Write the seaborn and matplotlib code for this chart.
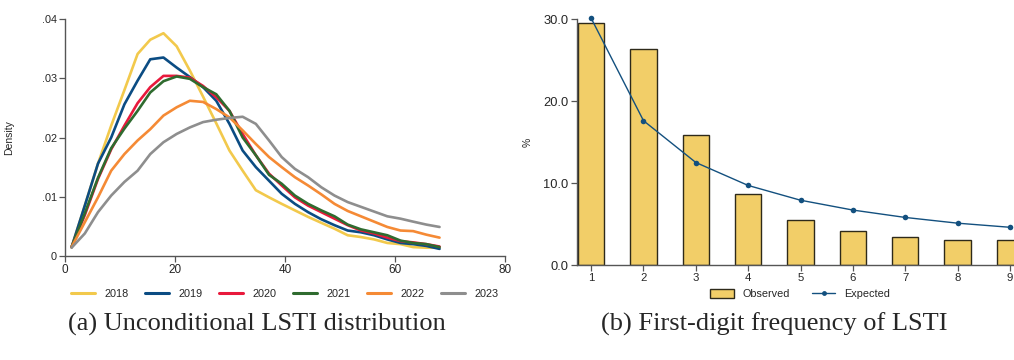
import numpy as np
import pandas as pd
import matplotlib
matplotlib.use("Agg")
import matplotlib.pyplot as plt
import seaborn as sns
from matplotlib.lines import Line2D
from matplotlib.patches import Patch

sns.set_theme(style="white")
plt.rcParams['font.family'] = ['Liberation Sans', 'DejaVu Sans']

# ---------------- data: panel (a) ----------------
lsti_grid = [1.2, 3.6, 6.0, 8.4, 10.8, 13.2, 15.5, 17.9, 20.3, 22.7, 25.1, 27.5, 29.9, 32.3,
             34.7, 37.1, 39.4, 41.8, 44.2, 46.6, 49.0, 51.4, 53.8, 56.2, 58.6, 61.0, 63.3, 65.7, 68.1]
dens_2018 = [0.0015, 0.0085, 0.0156, 0.0220, 0.0280, 0.0341, 0.0365, 0.0376, 0.0354, 0.0313,
             0.0269, 0.0224, 0.0178, 0.0144, 0.0111, 0.0099, 0.0088, 0.0077, 0.0066, 0.0056,
             0.0046, 0.0035, 0.0032, 0.0028, 0.0022, 0.0020, 0.0015, 0.0014, 0.0014]
dens_2019 = [0.0015, 0.0085, 0.0156, 0.0200, 0.0256, 0.0296, 0.0332, 0.0335, 0.0318, 0.0302,
             0.0285, 0.0262, 0.0223, 0.0178, 0.0150, 0.0127, 0.0105, 0.0088, 0.0074, 0.0062,
             0.0052, 0.0043, 0.0040, 0.0035, 0.0028, 0.0022, 0.0020, 0.0017, 0.0012]
dens_2020 = [0.0015, 0.0069, 0.0130, 0.0180, 0.0220, 0.0258, 0.0285, 0.0304, 0.0304, 0.0301,
             0.0287, 0.0268, 0.0245, 0.0206, 0.0170, 0.0139, 0.0119, 0.0099, 0.0085, 0.0074,
             0.0063, 0.0052, 0.0043, 0.0038, 0.0031, 0.0025, 0.0023, 0.0020, 0.0016]
dens_2021 = [0.0015, 0.0072, 0.0132, 0.0182, 0.0215, 0.0245, 0.0276, 0.0295, 0.0303, 0.0299,
             0.0285, 0.0273, 0.0245, 0.0200, 0.0170, 0.0137, 0.0122, 0.0102, 0.0088, 0.0077,
             0.0067, 0.0053, 0.0045, 0.0040, 0.0035, 0.0026, 0.0022, 0.0020, 0.0015]
dens_2022 = [0.0015, 0.0057, 0.0099, 0.0144, 0.0172, 0.0195, 0.0214, 0.0237, 0.0251, 0.0262,
             0.0260, 0.0248, 0.0234, 0.0212, 0.0189, 0.0167, 0.0150, 0.0133, 0.0119, 0.0104,
             0.0088, 0.0076, 0.0067, 0.0058, 0.0049, 0.0043, 0.0042, 0.0036, 0.0031]
dens_2023 = [0.0014, 0.0038, 0.0074, 0.0102, 0.0125, 0.0144, 0.0172, 0.0192, 0.0206, 0.0217,
             0.0226, 0.0230, 0.0233, 0.0235, 0.0223, 0.0195, 0.0167, 0.0147, 0.0133, 0.0116,
             0.0102, 0.0091, 0.0083, 0.0075, 0.0067, 0.0063, 0.0058, 0.0053, 0.0049]
years = ["2018", "2019", "2020", "2021", "2022", "2023"]
year_colors = ["#F2C94C", "#0B4C83", "#E8193C", "#2F6B2F", "#F58A35", "#8E8E8E"]

# ---------------- data: panel (b) ----------------
digits = [1, 2, 3, 4, 5, 6, 7, 8, 9]
observed = [29.5, 26.4, 15.9, 8.7, 5.5, 4.1, 3.4, 3.1, 3.0]
expected = [30.1, 17.6, 12.5, 9.7, 7.9, 6.7, 5.8, 5.1, 4.6]

# ---------------- figure ----------------
W, H = 1014, 360
fig = plt.figure(figsize=(W / 100, H / 100), dpi=100)

def px(l, t, r, b):
    return [l / W, 1 - b / H, (r - l) / W, (b - t) / H]

ax1 = fig.add_axes(px(65, 19, 505, 256))
ax2 = fig.add_axes(px(577, 19, 1023, 265))

spine_col = "#555555"

# ---- panel (a)
dens_all = [dens_2018, dens_2019, dens_2020, dens_2021, dens_2022, dens_2023]
df = pd.DataFrame({
    "lsti": np.tile(lsti_grid, len(years)),
    "density": np.concatenate(dens_all),
    "year": np.repeat(years, len(lsti_grid)),
})
palette = dict(zip(years, year_colors))
sns.lineplot(data=df, x="lsti", y="density", hue="year", palette=palette,
             linewidth=1.9, ax=ax1, legend=False, sort=False)
ax1.set_xlim(0, 80)
ax1.set_ylim(0, 0.04)
ax1.set_xticks([0, 20, 40, 60, 80])
ax1.set_xticklabels(["0", "20", "40", "60", "80"])
ax1.set_yticks([0, 0.01, 0.02, 0.03, 0.04])
ax1.set_yticklabels(["0", ".01", ".02", ".03", ".04"])
ax1.set_xlabel("")
ax1.set_ylabel("Density", fontsize=7.5)
ax1.yaxis.set_label_coords(-0.116, 0.5)
ax1.tick_params(axis="x", labelsize=8.5)
ax1.tick_params(axis="y", labelsize=7.8)

# ---- panel (b)
sns.barplot(x=digits, y=observed, native_scale=True, width=0.5, color="#F2CE68",
            saturation=1, edgecolor="#2E2A1A", linewidth=1.0, ax=ax2, zorder=2)
sns.lineplot(x=digits, y=expected, color="#13507F", linewidth=1.0, marker="o",
             markersize=4, markeredgewidth=0, ax=ax2, zorder=3, clip_on=False)
ax2.set_xlim(0.73, 9.25)
ax2.set_ylim(0, 30)
ax2.set_xticks(digits)
ax2.set_xticklabels([str(d) for d in digits])
ax2.set_yticks([0, 10, 20, 30])
ax2.set_yticklabels(["0.0", "10.0", "20.0", "30.0"])
ax2.set_xlabel("")
ax2.set_ylabel("%", fontsize=7.5)
ax2.yaxis.set_label_coords(-0.10, 0.5)
ax2.tick_params(axis="x", labelsize=8.2)
ax2.tick_params(axis="y", labelsize=9.3)

for ax in (ax1, ax2):
    for s in ("top", "right"):
        ax.spines[s].set_visible(False)
    for s in ("left", "bottom"):
        ax.spines[s].set_color(spine_col)
        ax.spines[s].set_linewidth(1.0)
    ax.tick_params(axis="both", which="both", direction="out", length=4, width=0.9,
                   color=spine_col, pad=2, left=True, bottom=True)
    ax.grid(False)
    ax.set_facecolor("white")

# ---- legends
h1 = [Line2D([0], [0], color=c, lw=2.2) for c in year_colors]
fig.legend(h1, years, loc="center", bbox_to_anchor=(285 / W, 1 - 294 / H), ncol=6,
           frameon=False, fontsize=7.8, handlelength=2.2, columnspacing=1.5,
           handletextpad=0.9)
h2 = [Patch(facecolor="#F2CE68", edgecolor="#2E2A1A", linewidth=1.0),
      Line2D([0], [0], color="#13507F", lw=1.0, marker="o", markersize=3.5, markeredgewidth=0)]
fig.legend(h2, ["Observed", "Expected"], loc="center", bbox_to_anchor=(800 / W, 1 - 294 / H),
           ncol=2, frameon=False, fontsize=7.8, handlelength=2.2, handleheight=1.0,
           columnspacing=2.0, handletextpad=0.8)

# ---- captions
cap_kw = dict(family=["Liberation Serif", "DejaVu Serif"], fontsize=19, ha="center", va="center")
fig.text(257 / W, 1 - 324 / H, "(a) Unconditional LSTI distribution", **cap_kw)
fig.text(774 / W, 1 - 324 / H, "(b) First-digit frequency of LSTI", **cap_kw)

fig.savefig("out.png", dpi=100, facecolor="white")
